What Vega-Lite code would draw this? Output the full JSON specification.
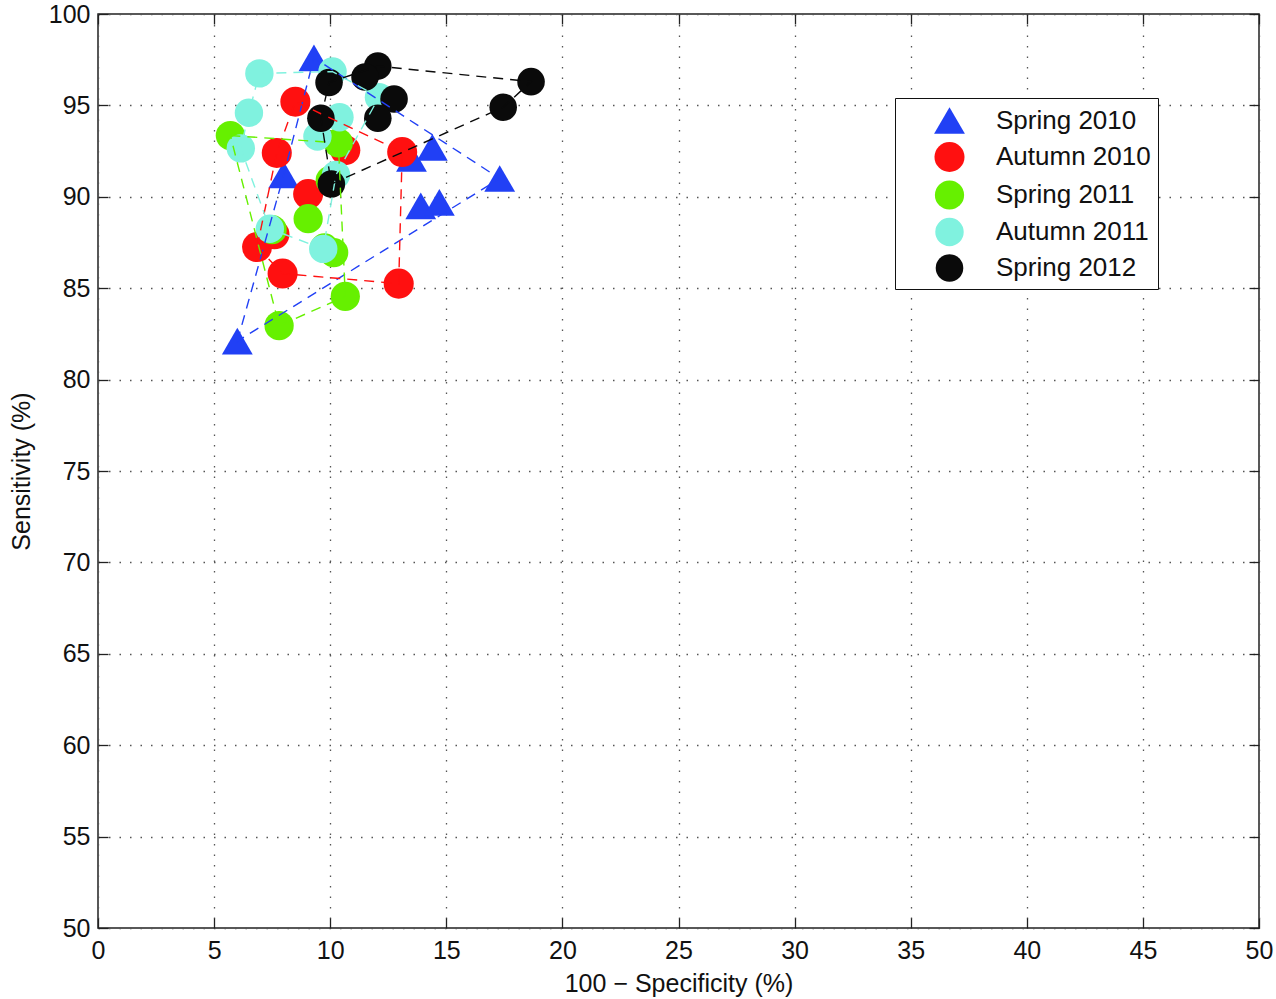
{
  "$schema": "https://vega.github.io/schema/vega-lite/v6.json",
  "autosize": "none",
  "width": 1161,
  "height": 914,
  "padding": {"left": 98, "top": 14, "right": 17, "bottom": 71},
  "background": "white",
  "config": {
    "font": "Liberation Sans",
    "view": {"stroke": "#222222", "strokeWidth": 1.5},
    "axis": {
      "domain": false,
      "labelFlush": false,
      "labelFontSize": 25,
      "labelColor": "#111111",
      "titleFontSize": 25,
      "titleFontWeight": "normal",
      "titleColor": "#111111",
      "tickColor": "#222222",
      "tickWidth": 1.3,
      "gridColor": "#555555",
      "gridDash": [1.5, 9],
      "gridWidth": 1.3
    }
  },
  "data": {
    "values": [
      {"survey": "Spring 2010", "fpr": 6.0, "sens": 82.1, "hull": 1},
      {"survey": "Spring 2010", "fpr": 8.0, "sens": 91.2, "hull": 2},
      {"survey": "Spring 2010", "fpr": 9.3, "sens": 97.6, "hull": 3},
      {"survey": "Spring 2010", "fpr": 17.3, "sens": 91.0, "hull": 4},
      {"survey": "Spring 2010", "fpr": 14.4, "sens": 92.7, "hull": null},
      {"survey": "Spring 2010", "fpr": 13.5, "sens": 92.1, "hull": null},
      {"survey": "Spring 2010", "fpr": 13.9, "sens": 89.5, "hull": null},
      {"survey": "Spring 2010", "fpr": 14.7, "sens": 89.7, "hull": null},
      {"survey": "Autumn 2010", "fpr": 6.85, "sens": 87.25, "hull": 1},
      {"survey": "Autumn 2010", "fpr": 7.7, "sens": 92.4, "hull": 2},
      {"survey": "Autumn 2010", "fpr": 8.5, "sens": 95.2, "hull": 3},
      {"survey": "Autumn 2010", "fpr": 13.1, "sens": 92.45, "hull": 4},
      {"survey": "Autumn 2010", "fpr": 12.95, "sens": 85.25, "hull": 5},
      {"survey": "Autumn 2010", "fpr": 7.95, "sens": 85.8, "hull": 6},
      {"survey": "Autumn 2010", "fpr": 10.65, "sens": 92.55, "hull": null},
      {"survey": "Autumn 2010", "fpr": 9.05, "sens": 90.15, "hull": null},
      {"survey": "Autumn 2010", "fpr": 7.6, "sens": 87.95, "hull": null},
      {"survey": "Spring 2011", "fpr": 5.7, "sens": 93.35, "hull": 1},
      {"survey": "Spring 2011", "fpr": 10.35, "sens": 92.95, "hull": 2},
      {"survey": "Spring 2011", "fpr": 10.65, "sens": 84.55, "hull": 3},
      {"survey": "Spring 2011", "fpr": 7.8, "sens": 82.95, "hull": 4},
      {"survey": "Spring 2011", "fpr": 10.0, "sens": 90.9, "hull": null},
      {"survey": "Spring 2011", "fpr": 9.05, "sens": 88.8, "hull": null},
      {"survey": "Spring 2011", "fpr": 7.5, "sens": 88.2, "hull": null},
      {"survey": "Spring 2011", "fpr": 9.75, "sens": 87.2, "hull": null},
      {"survey": "Spring 2011", "fpr": 10.15, "sens": 86.95, "hull": null},
      {"survey": "Autumn 2011", "fpr": 6.95, "sens": 96.75, "hull": 1},
      {"survey": "Autumn 2011", "fpr": 10.1, "sens": 96.85, "hull": 2},
      {"survey": "Autumn 2011", "fpr": 12.1, "sens": 95.45, "hull": 3},
      {"survey": "Autumn 2011", "fpr": 10.25, "sens": 91.2, "hull": 4},
      {"survey": "Autumn 2011", "fpr": 9.7, "sens": 87.15, "hull": 5},
      {"survey": "Autumn 2011", "fpr": 7.4, "sens": 88.25, "hull": 6},
      {"survey": "Autumn 2011", "fpr": 6.15, "sens": 92.65, "hull": 7},
      {"survey": "Autumn 2011", "fpr": 6.5, "sens": 94.6, "hull": 8},
      {"survey": "Autumn 2011", "fpr": 10.4, "sens": 94.35, "hull": null},
      {"survey": "Autumn 2011", "fpr": 9.45, "sens": 93.3, "hull": null},
      {"survey": "Spring 2012", "fpr": 9.6, "sens": 94.3, "hull": 1},
      {"survey": "Spring 2012", "fpr": 9.95, "sens": 96.25, "hull": 2},
      {"survey": "Spring 2012", "fpr": 12.05, "sens": 97.15, "hull": 3},
      {"survey": "Spring 2012", "fpr": 18.65, "sens": 96.3, "hull": 4},
      {"survey": "Spring 2012", "fpr": 17.45, "sens": 94.9, "hull": 5},
      {"survey": "Spring 2012", "fpr": 10.05, "sens": 90.7, "hull": 6},
      {"survey": "Spring 2012", "fpr": 11.5, "sens": 96.55, "hull": null},
      {"survey": "Spring 2012", "fpr": 12.75, "sens": 95.35, "hull": null},
      {"survey": "Spring 2012", "fpr": 12.05, "sens": 94.3, "hull": null}
    ]
  },
  "layer": [
    {
      "mark": {"type": "point", "filled": true, "opacity": 1, "strokeWidth": 0},
      "encoding": {
        "x": {
          "field": "fpr", "type": "quantitative",
          "scale": {"domain": [0, 50], "nice": false, "zero": false},
          "axis": {
            "orient": "bottom",
            "values": [0, 5, 10, 15, 20, 25, 30, 35, 40, 45, 50],
            "title": "100 − Specificity (%)",
            "tickSize": -10,
            "labelPadding": 20,
            "titlePadding": 8,
            "grid": true
          }
        },
        "y": {
          "field": "sens", "type": "quantitative",
          "scale": {"domain": [50, 100], "nice": false, "zero": false},
          "axis": {
            "orient": "left",
            "values": [50, 55, 60, 65, 70, 75, 80, 85, 90, 95, 100],
            "title": "Sensitivity (%)",
            "tickSize": -10,
            "labelPadding": 18,
            "titlePadding": 14,
            "grid": true
          }
        },
        "color": {
          "field": "survey", "type": "nominal",
          "scale": {
            "domain": ["Spring 2010", "Autumn 2010", "Spring 2011", "Autumn 2011", "Spring 2012"],
            "range": ["#2140f5", "#ff1010", "#66f000", "#80f2df", "#0a0a0a"]
          },
          "legend": {
            "title": null,
            "orient": "none",
            "legendX": 797,
            "legendY": 84,
            "strokeColor": "#111111",
            "fillColor": "white",
            "padding": 7,
            "symbolOffset": 32,
            "labelOffset": 31,
            "labelFontSize": 26,
            "labelColor": "#111111",
            "rowPadding": 7.5,
            "symbolStrokeWidth": 0
          }
        },
        "shape": {
          "field": "survey", "type": "nominal",
          "scale": {
            "domain": ["Spring 2010", "Autumn 2010", "Spring 2011", "Autumn 2011", "Spring 2012"],
            "range": ["triangle-up", "circle", "circle", "circle", "circle"]
          }
        },
        "size": {
          "field": "survey", "type": "nominal",
          "scale": {
            "domain": ["Spring 2010", "Autumn 2010", "Spring 2011", "Autumn 2011", "Spring 2012"],
            "range": [950, 760, 760, 760, 760]
          }
        }
      }
    },
    {
      "transform": [{"filter": "datum.hull != null"}],
      "mark": {"type": "line", "interpolate": "linear-closed", "strokeDash": [10, 7], "strokeWidth": 1.4},
      "encoding": {
        "x": {
          "field": "fpr", "type": "quantitative",
          "axis": {"orient": "top", "values": [0, 5, 10, 15, 20, 25, 30, 35, 40, 45, 50], "labels": false, "title": null, "grid": false, "tickSize": -10}
        },
        "y": {
          "field": "sens", "type": "quantitative",
          "axis": {"orient": "right", "values": [50, 55, 60, 65, 70, 75, 80, 85, 90, 95, 100], "labels": false, "title": null, "grid": false, "tickSize": -10}
        },
        "color": {"field": "survey", "type": "nominal", "legend": null},
        "order": {"field": "hull", "type": "quantitative"}
      }
    }
  ],
  "resolve": {"axis": {"x": "independent", "y": "independent"}}
}
